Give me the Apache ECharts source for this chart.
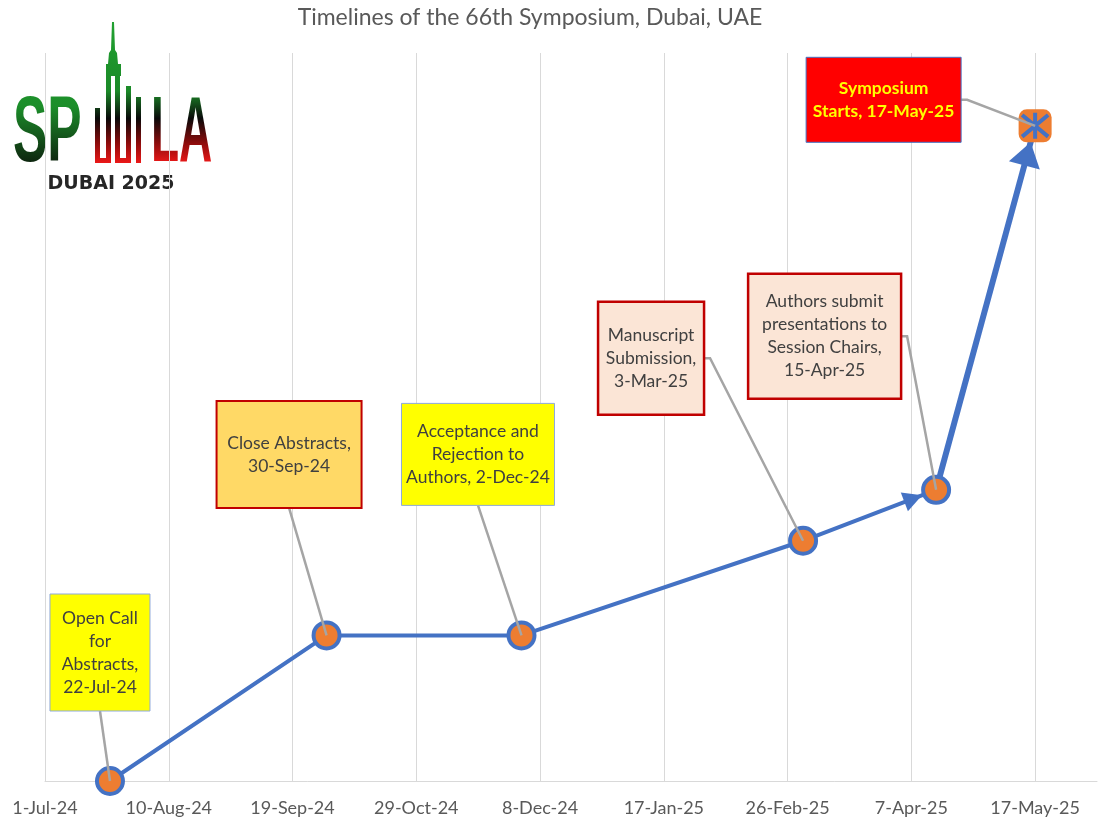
<!DOCTYPE html>
<html>
<head>
<meta charset="utf-8">
<title>Timelines of the 66th Symposium, Dubai, UAE</title>
<script src="https://cdn.jsdelivr.net/npm/echarts@6/dist/echarts.min.js"></script>
<style>
  html, body { margin: 0; padding: 0; background: #fff; }
  #main { width: 1102px; height: 819px; }
</style>
</head>
<body>
<div id="main"></div>
<script>
// milestones of the symposium
var milestoneDates = ['2024-07-22', '2024-09-30', '2024-12-02', '2025-03-03', '2025-04-15', '2025-05-17'];
var milestoneLevels = [0, 2, 2, 3.3, 4, 9];
var milestoneLabels = [
  'Open Call\nfor\nAbstracts,\n22-Jul-24',
  'Close Abstracts,\n30-Sep-24',
  'Acceptance and\nRejection to\nAuthors, 2-Dec-24',
  'Manuscript\nSubmission,\n3-Mar-25',
  'Authors submit\npresentations to\nSession Chairs,\n15-Apr-25',
  'Symposium\nStarts, 17-May-25'
];
// x axis
var axisStart = '2024-07-01';
var axisEnd = '2025-06-06';
var tickStepDays = 40;
var tickLabels = ['1-Jul-24', '10-Aug-24', '19-Sep-24', '29-Oct-24', '8-Dec-24', '17-Jan-25', '26-Feb-25', '7-Apr-25', '17-May-25'];

// where each callout box sits, relative to its point (pixels)
var boxLayout = [
  { dx: -10,    dy: -128.5, w: 100, h: 117, side: 'bottom', fill: '#FFFF00', stroke: '#8EA9DB', lw: 1,   color: '#404040', bold: false },
  { dx: -37.5,  dy: -181,   w: 145, h: 107, side: 'bottom', fill: '#FFD966', stroke: '#C00000', lw: 2,   color: '#404040', bold: false },
  { dx: -43.5,  dy: -181,   w: 153, h: 102, side: 'bottom', fill: '#FFFF00', stroke: '#8EA9DB', lw: 1,   color: '#404040', bold: false },
  { dx: -152,   dy: -182.5, w: 106, h: 113, side: 'right',  fill: '#FBE5D6', stroke: '#C00000', lw: 2.5, color: '#404040', bold: false },
  { dx: -111.5, dy: -153.5, w: 153, h: 125, side: 'right',  fill: '#FBE5D6', stroke: '#C00000', lw: 2.5, color: '#404040', bold: false },
  { dx: -151.5, dy: -26,    w: 155, h: 85,  side: 'right',  fill: '#FF0000', stroke: '#4472C4', lw: 1,   color: '#FFFF00', bold: true }
];
// arrow heads: [from point, to point], gap = distance of tip from the target point
var arrowSegments = [[3, 4], [4, 5]];
var arrowLayout = [{ gap: 15, len: 19, w: 20 }, { gap: 17, len: 24, w: 32 }];

function dayOffset(s) {
  var p = s.split('-');
  var q = axisStart.split('-');
  return (Date.UTC(+p[0], p[1] - 1, +p[2]) - Date.UTC(+q[0], q[1] - 1, +q[2])) / 86400000;
}

var points = milestoneDates.map(function (d, i) { return [dayOffset(d), milestoneLevels[i], i]; });
var lastIdx = points.length - 1;

var chartDom = document.getElementById('main');
var myChart = echarts.init(chartDom);

var BLUE = '#4472C4';
var ORANGE = '#ED7D31';

var option = {
  animation: false,
  title: {
    text: 'Timelines of the 66th Symposium, Dubai, UAE',
    left: 530,
    top: 6,
    padding: 0,
    textAlign: 'center',
    textStyle: { fontFamily: 'Lato', fontSize: 23, fontWeight: 'normal', color: '#595959' }
  },
  grid: { left: 45, right: 5, top: 53, bottom: 38 },
  xAxis: {
    type: 'value',
    min: 0,
    max: dayOffset(axisEnd),
    interval: tickStepDays,
    axisLine: { show: true, lineStyle: { color: '#D9D9D9', width: 1 } },
    axisTick: { show: false },
    splitLine: { show: true, showMaxLine: false, lineStyle: { color: '#D9D9D9', width: 1 } },
    axisLabel: {
      color: '#595959',
      fontFamily: 'Lato',
      fontSize: 18,
      margin: 18,
      showMaxLabel: false,
      formatter: function (v) {
        var k = v / tickStepDays;
        if (Math.abs(k - Math.round(k)) > 1e-6) return '';
        return tickLabels[Math.round(k)] || '';
      }
    }
  },
  yAxis: { type: 'value', min: 0, max: 10, show: false, splitLine: { show: false } },
  graphic: [
    // logo: letters and tower drawn dark, then coloured with gradients on top
    { type: 'text', z: -5, x: 13, y: 136, scaleX: 0.56,
      style: { text: 'SP', font: 'bold 92px "Liberation Sans"', fill: '#000', verticalAlign: 'middle' } },
    { type: 'text', z: -5, x: 151, y: 136, scaleX: 0.5,
      style: { text: 'LA', font: 'bold 92px "Liberation Sans"', fill: '#000', verticalAlign: 'middle' } },
    { type: 'polygon', z: -5, shape: { points: [[112, 22], [114, 22], [115, 50], [117, 53], [118, 64], [108, 64], [109, 53], [111, 50]] }, style: { fill: '#000' } },
    { type: 'rect', z: -5, shape: { x: 106, y: 64, width: 15, height: 12 }, style: { fill: '#000' } },
    { type: 'rect', z: -5, shape: { x: 95, y: 108, width: 5, height: 55 }, style: { fill: '#000' } },
    { type: 'rect', z: -5, shape: { x: 106, y: 76, width: 5, height: 87 }, style: { fill: '#000' } },
    { type: 'rect', z: -5, shape: { x: 95, y: 158, width: 16, height: 5 }, style: { fill: '#000' } },
    { type: 'rect', z: -5, shape: { x: 115, y: 70, width: 5, height: 93 }, style: { fill: '#000' } },
    { type: 'rect', z: -5, shape: { x: 126, y: 86, width: 5, height: 77 }, style: { fill: '#000' } },
    { type: 'rect', z: -5, shape: { x: 115, y: 158, width: 16, height: 5 }, style: { fill: '#000' } },
    { type: 'rect', z: -5, shape: { x: 136, y: 97, width: 5, height: 66 }, style: { fill: '#000' } },
    { type: 'rect', z: -4, shape: { x: 0, y: 15, width: 94, height: 152 },
      style: { blend: 'source-atop', fill: new echarts.graphic.LinearGradient(0, 0, 0, 1, [
        { offset: 0, color: '#22a332' }, { offset: 0.6, color: '#1c8e2a' }, { offset: 1, color: '#0c1d0c' }
      ]) } },
    { type: 'rect', z: -4, shape: { x: 94, y: 15, width: 126, height: 152 },
      style: { blend: 'source-atop', fill: new echarts.graphic.LinearGradient(0, 0, 0, 1, [
        { offset: 0, color: '#22a332' }, { offset: 0.5, color: '#1b8a28' }, { offset: 0.68, color: '#0a0a0a' },
        { offset: 0.84, color: '#8a0c0c' }, { offset: 1, color: '#ff1a1a' }
      ]) } },
    { type: 'text', z: -3, x: 111, y: 184,
      style: { text: 'DUBAI 2025', font: 'bold 19px "DejaVu Sans"', fill: '#262626', align: 'center', verticalAlign: 'middle' } }
  ],
  series: [
    {
      type: 'line',
      z: 2,
      symbol: 'none',
      data: points.slice(0, lastIdx),
      lineStyle: { color: BLUE, width: 4 }
    },
    {
      type: 'line',
      z: 2,
      symbol: 'none',
      data: points.slice(lastIdx - 1),
      lineStyle: { color: BLUE, width: 6 }
    },
    {
      // arrow heads
      type: 'custom',
      z: 3,
      data: arrowSegments.map(function (s, k) {
        return [points[s[0]][0], points[s[0]][1], points[s[1]][0], points[s[1]][1], k];
      }),
      encode: { x: [0, 2], y: [1, 3] },
      renderItem: function (params, api) {
        var a = api.coord([api.value(0), api.value(1)]);
        var b = api.coord([api.value(2), api.value(3)]);
        var cfg = arrowLayout[api.value(4)];
        var vx = b[0] - a[0], vy = b[1] - a[1];
        var l = Math.sqrt(vx * vx + vy * vy);
        vx /= l; vy /= l;
        var tip = [b[0] - vx * cfg.gap, b[1] - vy * cfg.gap];
        var base = [tip[0] - vx * cfg.len, tip[1] - vy * cfg.len];
        var px = -vy * cfg.w / 2, py = vx * cfg.w / 2;
        return {
          type: 'polygon',
          shape: { points: [tip, [base[0] + px, base[1] + py], [base[0] - px, base[1] - py]] },
          style: { fill: BLUE }
        };
      }
    },
    {
      type: 'scatter',
      z: 4,
      symbol: 'circle',
      symbolSize: 26,
      data: points.slice(0, lastIdx),
      itemStyle: { color: ORANGE, borderColor: BLUE, borderWidth: 4, opacity: 1 }
    },
    {
      type: 'scatter',
      z: 4,
      symbol: 'roundRect',
      symbolSize: 33,
      data: points.slice(lastIdx),
      itemStyle: { color: ORANGE, opacity: 1 }
    },
    {
      type: 'scatter',
      z: 5,
      symbol: 'path://M0,0L20,20M20,0L0,20M10,-2L10,22',
      symbolSize: 26,
      data: points.slice(lastIdx),
      itemStyle: { color: 'none', borderColor: BLUE, borderWidth: 4, opacity: 1 }
    },
    {
      // callout boxes with their leader lines
      type: 'custom',
      z: 10,
      data: points,
      encode: { x: 0, y: 1 },
      renderItem: function (params, api) {
        var i = api.value(2);
        var c = api.coord([api.value(0), api.value(1)]);
        var b = boxLayout[i];
        var cx = c[0] + b.dx, cy = c[1] + b.dy;
        var x0 = cx - b.w / 2, y0 = cy - b.h / 2;
        var pts = b.side === 'bottom'
          ? [[cx, y0 + b.h], c]
          : [[x0 + b.w, cy], [x0 + b.w + 6, cy], c];
        return {
          type: 'group',
          children: [
            { type: 'polyline', shape: { points: pts }, style: { stroke: '#A5A5A5', lineWidth: 2.5, fill: null } },
            { type: 'rect', shape: { x: x0, y: y0, width: b.w, height: b.h }, style: { fill: b.fill, stroke: b.stroke, lineWidth: b.lw } },
            { type: 'text', x: cx, y: cy, style: {
              text: milestoneLabels[i], align: 'center', verticalAlign: 'middle',
              font: (b.bold ? 'bold ' : '') + '17.5px Lato', fill: b.color, lineHeight: 23 } }
          ]
        };
      }
    }
  ]
};

myChart.setOption(option);
</script>
</body>
</html>
